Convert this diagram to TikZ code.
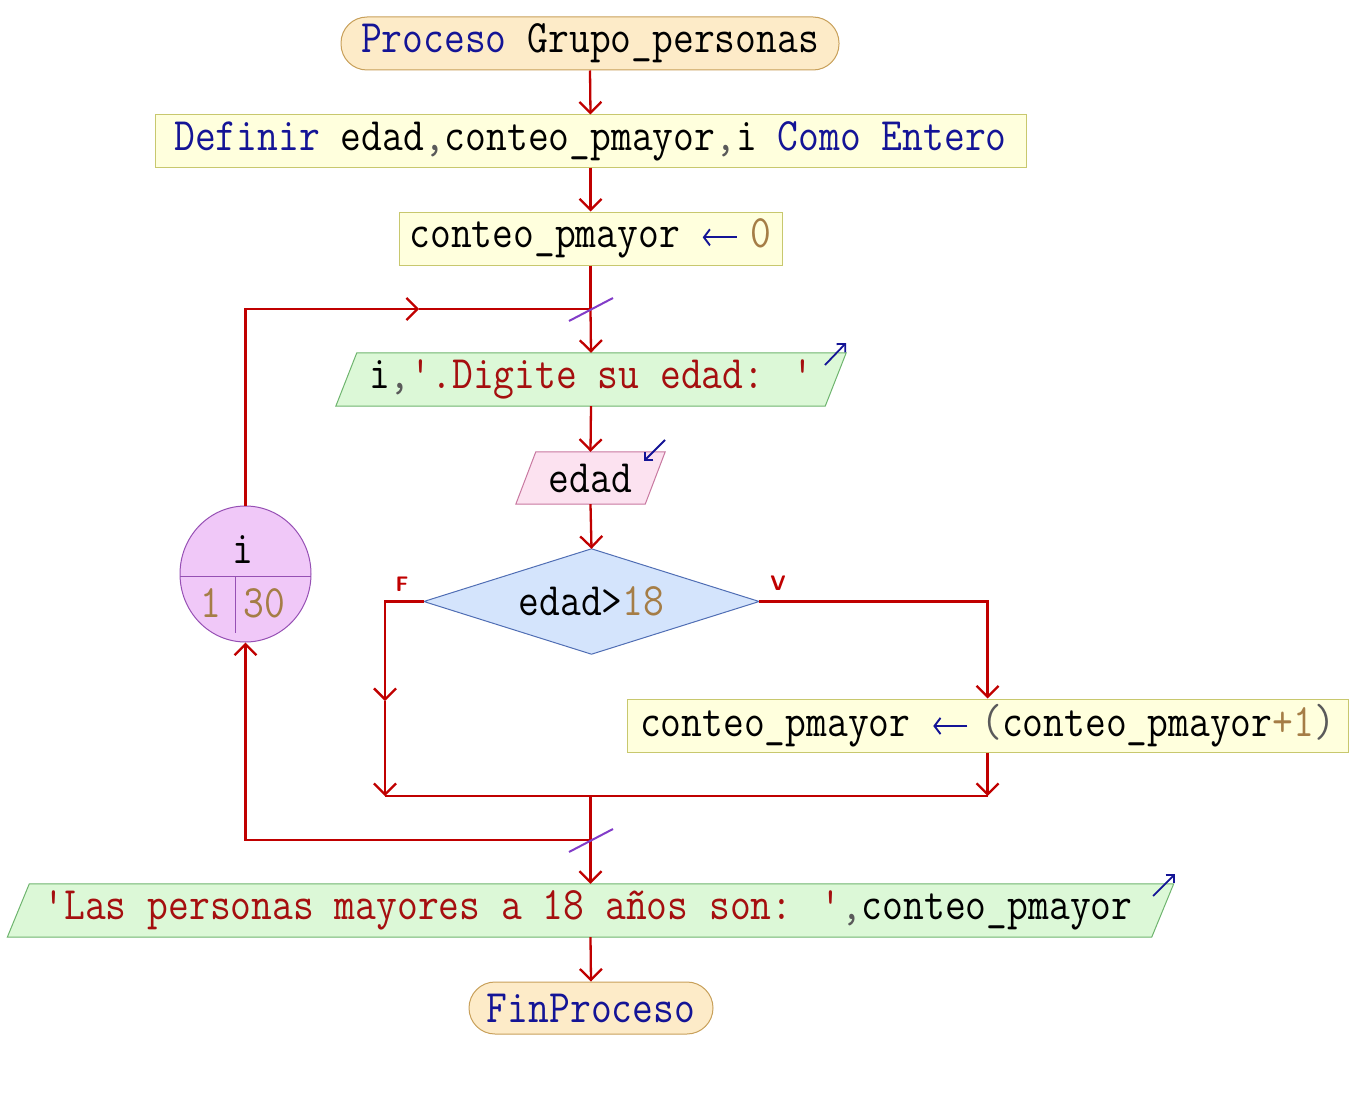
\documentclass[tikz,border=0pt]{standalone}
\usepackage{fontspec}
\usetikzlibrary{arrows.meta,shapes.geometric,calc}
\definecolor{flowred}{RGB}{192,0,0}
\definecolor{kw}{RGB}{20,20,150}
\definecolor{str}{RGB}{165,15,15}
\definecolor{num}{RGB}{165,125,70}
\definecolor{cm}{RGB}{90,90,90}
\definecolor{termfill}{RGB}{253,235,200}
\definecolor{termdraw}{RGB}{200,160,90}
\definecolor{boxfill}{RGB}{255,255,221}
\definecolor{boxdraw}{RGB}{200,200,110}
\definecolor{outfill}{RGB}{220,248,215}
\definecolor{outdraw}{RGB}{110,180,110}
\definecolor{infill}{RGB}{252,226,240}
\definecolor{indraw}{RGB}{200,120,160}
\definecolor{decfill}{RGB}{212,228,252}
\definecolor{decdraw}{RGB}{80,110,180}
\definecolor{cirfill}{RGB}{240,200,248}
\definecolor{cirdraw}{RGB}{150,80,180}
\definecolor{slash}{RGB}{130,60,200}
\newcommand\T[1]{\scalebox{1}[1.15]{#1}}
\newcommand\AR{\tikz[x=1pt,y=1pt,baseline=0pt]{\path (0,0) rectangle (50,1);
  \draw[kw,line width=1.8pt,-{Straight Barb[length=6pt,width=14pt]}] (36,9) -- (2,9);}}
\begin{document}
\begin{tikzpicture}[x=1pt,y=-1pt,
  txt/.style={inner sep=0pt, font=\ttfamily\fontsize{40.4}{44}\selectfont, text=black},
  term/.style={txt, draw=termdraw, fill=termfill, line width=1pt, rounded corners=26pt},
  procbox/.style={txt, draw=boxdraw, fill=boxfill, line width=1pt},
  plain/.style={txt},
  flow/.style={draw=flowred, line width=2.3pt},
  arr/.style={flow, -{Straight Barb[length=11pt,width=22pt]}},
  ioarr/.style={draw=kw, line width=1.8pt, -{Straight Barb[length=6pt,width=12pt]}},
  slashln/.style={draw=slash, line width=2pt},
  lab/.style={inner sep=0pt, text=flowred, font=\sffamily\bfseries\fontsize{21}{24}\selectfont}
]
\useasboundingbox (0,0) rectangle (1365,1097);

% start
\node[term, minimum width=498, minimum height=53] (start) at (590,43.5)
  {\T{{\color{kw}Proceso} Grupo\_personas}};
% definir
\node[procbox, minimum width=871, minimum height=52] (def) at (590.5,141)
  {\T{{\color{kw}Definir} edad{\color{cm},}conteo\_pmayor{\color{cm},}i {\color{kw}Como} {\color{kw}Entero}}};
% assign 0
\node[procbox, minimum width=383, minimum height=53] (asg) at (590.5,238.5)
  {\T{conteo\_pmayor \AR{\color{num}0}}};
% output 1
\node[plain, minimum width=489, minimum height=53] (out1) at (591,379.5)
  {};
\draw[fill=outfill, draw=outdraw, line width=1pt]
  ([xshift=10.5pt]out1.north west) -- ([xshift=10.5pt]out1.north east)
  -- ([xshift=-10.5pt]out1.south east) -- ([xshift=-10.5pt]out1.south west) -- cycle;
\node[plain] (out1t) at (out1.center)
  {\T{i{\color{cm},}{\color{str}'.Digite su edad: '}}};
% input
\node[plain, minimum width=129, minimum height=52] (in1) at (590.5,478) {};
\draw[fill=infill, draw=indraw, line width=1pt]
  ([xshift=10pt]in1.north west) -- ([xshift=10pt]in1.north east)
  -- ([xshift=-10pt]in1.south east) -- ([xshift=-10pt]in1.south west) -- cycle;
\node[plain] (in1t) at (in1.center) {\T{edad}};
% decision
\node[plain, minimum width=335, minimum height=105] (dec) at (591.5,601.5) {};
\draw[fill=decfill, draw=decdraw, line width=1pt]
  (dec.north) -- (dec.east) -- (dec.south) -- (dec.west) -- cycle;
\node[plain] (dect) at (dec.center) {\T{edad>{\color{num}18}}};
\node[lab] (flab) at (402,584) {F};
\node[lab] (vlab) at (778,583) {V};
% assign +1
\node[procbox, minimum width=721, minimum height=53] (asg2) at (987.5,725.5)
  {\T{conteo\_pmayor \AR{\color{cm}(}conteo\_pmayor{\color{num}+1}{\color{cm})}}};
% loop circle
\node[ellipse, draw=cirdraw, fill=cirfill, line width=1pt, inner sep=0pt,
      minimum width=131, minimum height=136] (circ) at (245.5,574) {};
\draw[draw=cirdraw, line width=1pt] (180,576) -- (311,576);
\draw[draw=cirdraw, line width=1pt] (235,576) -- (235,633);
\node[plain] (ci) at (243,550) {\T{i}};
\node[plain, text=num] (c1) at (211,603) {\T{1}};
\node[plain, text=num] (c30) at (264,603) {\T{30}};
% output 2
\node[plain, minimum width=1144, minimum height=53] (out2) at (590.5,910.5) {};
\draw[fill=outfill, draw=outdraw, line width=1pt]
  ([xshift=11pt]out2.north west) -- ([xshift=11pt]out2.north east)
  -- ([xshift=-11pt]out2.south east) -- ([xshift=-11pt]out2.south west) -- cycle;
\node[plain] (out2t) at (588,910.5)
  {\T{{\color{str}'Las personas mayores a 18 años son: '}{\color{cm},}conteo\_pmayor}};
% end
\node[term, minimum width=244, minimum height=52] (fin) at (591,1008)
  {\T{{\color{kw}FinProceso}}};

% coordinates
\coordinate (j1) at (590.5,309);
\coordinate (m1) at (419,309);
\coordinate (fm) at (385,701);
\coordinate (fl) at (385,796);
\coordinate (fr) at (987.5,796);
\coordinate (j2) at (590.5,796);
\coordinate (j3) at (590.5,840);

% connectors
\draw[arr] (start.south) -- (def.north);
\draw[arr] (def.south) -- (asg.north);
\draw[flow] (asg.south) -- (j1);
\draw[arr] (j1) -- (out1.north);
\draw[arr] (circ.north) |- (m1);
\draw[flow] (m1) -- (j1);
\draw[arr] (out1.south) -- (in1.north);
\draw[arr] (in1.south) -- (dec.north);
\draw[arr] (dec.west) -| (fm);
\draw[arr] (fm) -- (fl);
\draw[arr] (dec.east) -| (asg2.north);
\draw[arr] (asg2.south) -- (fr);
\draw[flow] (fl) -- (fr);
\draw[arr] (j2) -- (out2.north);
\draw[arr] (j3) -| (circ.south);
\draw[arr] (out2.south) -- (fin.north);

% loop markers
\draw[slashln] (569,321) -- (613,298);
\draw[slashln] (569,852) -- (613,829);

% io markers
\draw[ioarr] (825,365) -- (846,343);
\draw[ioarr] (665,440) -- (644,461);
\draw[ioarr] (1153,896) -- (1175,874);
\end{tikzpicture}
\end{document}
